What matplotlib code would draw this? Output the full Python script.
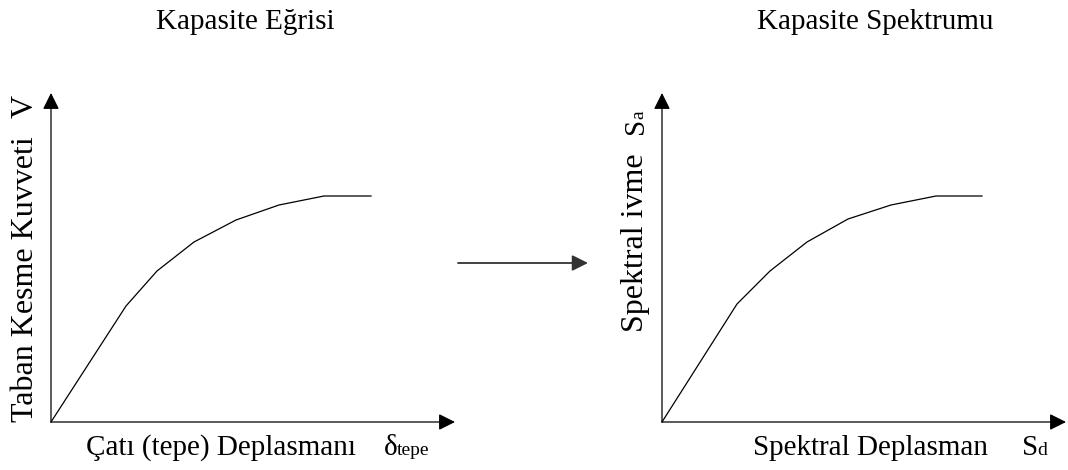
import matplotlib
matplotlib.use("Agg")
import matplotlib.pyplot as plt

# Kapasite egrisi (sol panel) - eksen birimleri keyfi
deplasman = [0, 75, 106, 143, 185, 228, 273, 320]
taban_kesme = [0, 116, 151, 180, 202, 217, 226, 226]

# Kapasite spektrumu (sag panel)
spektral_depl = [0, 75, 108, 145, 186, 229, 274, 320]
spektral_ivme = [0, 118, 151, 180, 203, 217, 226, 226]

W, H = 1068, 470
plt.rcParams['font.family'] = ['Liberation Serif', 'DejaVu Serif']

fig = plt.figure(figsize=(W / 100, H / 100), dpi=100)


def px(x, y):
    # piksel -> figure orani
    return x / W, 1 - y / H


def make_axes(x0, y0, x1, y1):
    l, b = px(x0, y1)
    r, t = px(x1, y0)
    ax = fig.add_axes([l, b, r - l, t - b])
    ax.set_xlim(0, x1 - x0)
    ax.set_ylim(0, y1 - y0)
    ax.axis('off')
    arrow = dict(arrowstyle='-|>', color='black', lw=0.9,
                 mutation_scale=25, shrinkA=0, shrinkB=0)
    ax.annotate('', xy=(1, 0), xytext=(0, 0), xycoords='axes fraction',
                arrowprops=arrow, annotation_clip=False)
    ax.annotate('', xy=(0, 1), xytext=(0, 0), xycoords='axes fraction',
                arrowprops=arrow, annotation_clip=False)
    return ax


ax1 = make_axes(51, 93, 455, 422)
ax1.plot(deplasman, taban_kesme, color='black', lw=0.9, clip_on=False)

ax2 = make_axes(662, 93, 1066, 422)
ax2.plot(spektral_depl, spektral_ivme, color='black', lw=0.9, clip_on=False)

# ortadaki ok
fig.patches.append(matplotlib.patches.FancyArrowPatch(
    px(458, 263), px(588, 263), transform=fig.transFigure,
    arrowstyle='-|>', color='#333333', lw=1.3, mutation_scale=24,
    shrinkA=0, shrinkB=0))

big = 21
rot = 23
small = 14

# basliklar
fig.text(*px(245, 29), 'Kapasite Eğrisi', fontsize=21, ha='center', va='baseline')
fig.text(*px(875, 29), 'Kapasite Spektrumu', fontsize=21, ha='center', va='baseline')

# sol panel etiketleri
fig.text(*px(33, 422), 'Taban Kesme Kuvveti', fontsize=rot, rotation=90,
         rotation_mode='anchor', ha='left', va='baseline')
fig.text(*px(33, 118), 'V', fontsize=rot, rotation=90,
         rotation_mode='anchor', ha='left', va='baseline')
fig.text(*px(86, 455), 'Çatı (tepe) Deplasmanı', fontsize=big, ha='left', va='baseline')
fig.text(*px(384, 455), 'δ', fontsize=big, ha='left', va='baseline')
fig.text(*px(397, 455), 'tepe', fontsize=small, ha='left', va='baseline')

# sag panel etiketleri
fig.text(*px(643, 332), 'Spektral ivme', fontsize=rot, rotation=90,
         rotation_mode='anchor', ha='left', va='baseline')
fig.text(*px(643, 134), 'S', fontsize=big, rotation=90,
         rotation_mode='anchor', ha='left', va='baseline')
fig.text(*px(643, 119), 'a', fontsize=small, rotation=90,
         rotation_mode='anchor', ha='left', va='baseline')
fig.text(*px(753, 455), 'Spektral Deplasman', fontsize=big, ha='left', va='baseline')
fig.text(*px(1022, 455), 'S', fontsize=big, ha='left', va='baseline')
fig.text(*px(1037, 455), 'd', fontsize=small, ha='left', va='baseline')

fig.savefig('out.png', dpi=100)
